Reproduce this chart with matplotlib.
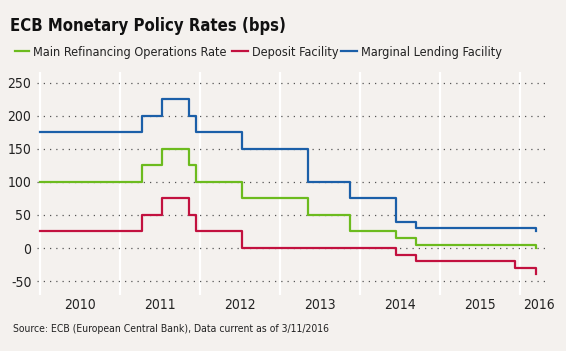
import matplotlib
matplotlib.use('Agg')
import matplotlib.pyplot as plt
import matplotlib.dates as mdates
from matplotlib.lines import Line2D
import pandas as pd

# ECB policy rates (bps), step changes
dates = pd.to_datetime(['2010-01-01', '2011-04-13', '2011-07-13', '2011-11-09', '2011-12-14',
                        '2012-07-11', '2013-05-08', '2013-11-13', '2014-06-11', '2014-09-10',
                        '2015-12-09', '2016-03-10', '2016-03-11'])
mro = [100, 125, 150, 125, 100, 75, 50, 25, 15, 5, 5, 0, 0]
deposit = [25, 50, 75, 50, 25, 0, 0, 0, -10, -20, -30, -40, -40]
lending = [175, 200, 225, 200, 175, 150, 100, 75, 40, 30, 30, 25, 25]

year_labels = ['2010', '2011', '2012', '2013', '2014', '2015', '2016']
label_pos = pd.to_datetime(['2010-07-02', '2011-07-02', '2012-07-02', '2013-07-02',
                            '2014-07-02', '2015-07-02', '2016-03-25'])
year_lines = pd.to_datetime(['2010-01-01', '2011-01-01', '2012-01-01', '2013-01-01',
                             '2014-01-01', '2015-01-01', '2016-01-01'])
y_ticks = [-50, 0, 50, 100, 150, 200, 250]

series = [('Main Refinancing Operations Rate', mro, '#6cbb1e'),
          ('Deposit Facility', deposit, '#c2113f'),
          ('Marginal Lending Facility', lending, '#1b5fa8')]

bg = '#f4f1ee'
plt.rcParams['font.family'] = ['DejaVu Sans']
plt.rcParams['font.stretch'] = 'condensed'

fig = plt.figure(figsize=(5.66, 3.51), dpi=100, facecolor=bg)
ax = fig.add_axes([37 / 566, 1 - 295 / 351, 508 / 566, 223 / 351], facecolor=bg)

for name, vals, col in series:
    ax.plot(dates, vals, drawstyle='steps-post', color=col, lw=1.6, zorder=3)

ax.set_xlim(pd.Timestamp('2009-12-18'), pd.Timestamp('2016-04-22'))
ax.set_ylim(-71, 266)
ax.set_yticks(y_ticks)
ax.set_yticklabels([str(v) for v in y_ticks])
for v in y_ticks:
    ax.axhline(v, color='#555555', lw=0.9, ls=(0, (1, 4)), zorder=1)
for d in year_lines:
    ax.axvline(d, color='white', lw=1.6, zorder=0)

ax.set_xticks(label_pos)
ax.set_xticklabels(year_labels)
ax.tick_params(axis='both', length=0, labelsize=10, colors='#222222')
ax.tick_params(axis='x', pad=2)
ax.tick_params(axis='y', pad=4)
for s in ax.spines.values():
    s.set_visible(False)

fig.text(10 / 566, 1 - 31 / 351, 'ECB Monetary Policy Rates (bps)', fontsize=12,
         fontweight='bold', color='#111111', va='baseline')

# legend row
leg_x = [(15, 33), (232, 252), (341, 361)]
for (name, vals, col), (lx, tx) in zip(series, leg_x):
    fig.add_artist(Line2D([lx / 566, (tx - 4) / 566], [1 - 51 / 351] * 2, color=col, lw=1.6))
    fig.text(tx / 566, 1 - 56 / 351, name, fontsize=9.1, color='#222222', va='baseline')

fig.text(13 / 566, 1 - 332 / 351, 'Source: ECB (European Central Bank), Data current as of 3/11/2016',
         fontsize=7.5, color='#222222', va='baseline')

fig.savefig('out.png', dpi=100, facecolor=bg)
